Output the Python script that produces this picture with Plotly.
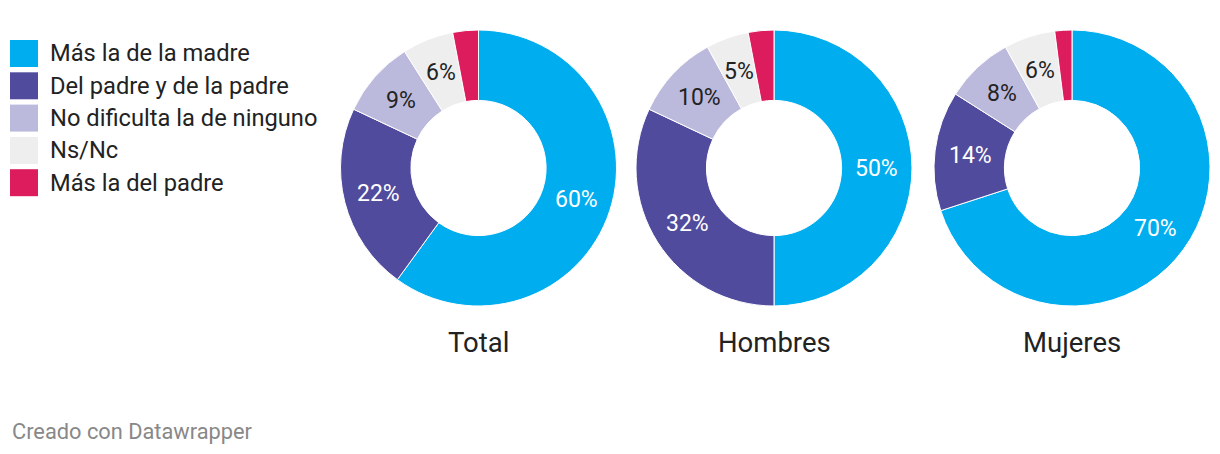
import math
import plotly.graph_objects as go

W, H = 1220, 454

categories = ["Más la de la madre", "Del padre y de la padre", "No dificulta la de ninguno", "Ns/Nc", "Más la del padre"]
colors = ["#00AEEF", "#514B9E", "#BCBADC", "#EEEEEE", "#DC1C5D"]
text_colors = ["white", "white", "#222222", "#222222", "#222222"]

groups = ["Total", "Hombres", "Mujeres"]
total_vals = [60, 22, 9, 6, 3]
hombres_vals = [50, 32, 10, 5, 3]
mujeres_vals = [70, 14, 8, 6, 2]
show_label = [True, True, True, True, False]

series = [total_vals, hombres_vals, mujeres_vals]
centers_x = [478.5, 774, 1072]
cy = 168
R = 138
HOLE = 0.49

def px_x(x):
    return x / W

def px_y(y):
    return 1 - y / H

fig = go.Figure()
for g, vals, cx in zip(groups, series, centers_x):
    fig.add_trace(go.Pie(
        labels=categories,
        values=vals,
        textinfo="none",
        hole=HOLE,
        sort=False,
        direction="clockwise",
        rotation=0,
        marker=dict(colors=colors, line=dict(color="white", width=1)),
        showlegend=False,
        domain=dict(x=[px_x(cx - R), px_x(cx + R)], y=[px_y(cy + R), px_y(cy - R)]),
        name=g,
    ))
    # slice labels at mid-radius, angle derived from the values
    total = sum(vals)
    rmid = (R * HOLE + R) / 2
    cum = 0
    for v, s, tc in zip(vals, show_label, text_colors):
        ang = 2 * math.pi * (cum + v / 2) / total
        cum += v
        if not s:
            continue
        lx = cx + rmid * math.sin(ang)
        ly = cy - rmid * math.cos(ang)
        fig.add_annotation(x=px_x(lx), y=px_y(ly), xref="paper", yref="paper",
                           text=f"{v}%", showarrow=False, xanchor="center", yanchor="middle",
                           font=dict(family="Roboto", size=23, color=tc))
    fig.add_annotation(x=px_x(cx), y=px_y(342), xref="paper", yref="paper",
                       text=g, showarrow=False, xanchor="center", yanchor="middle",
                       font=dict(family="Roboto", size=27.5, color="#222222"))

# manual legend
for i, (cat, col) in enumerate(zip(categories, colors)):
    top = 40 + i * 32.3
    fig.add_shape(type="rect", xref="paper", yref="paper",
                  x0=px_x(10), x1=px_x(38), y0=px_y(top + 27), y1=px_y(top),
                  fillcolor=col, line=dict(width=0))
    fig.add_annotation(x=px_x(48), y=px_y(top + 13.5), xref="paper", yref="paper",
                       text=cat, showarrow=False, xanchor="left", yanchor="middle",
                       font=dict(family="Roboto", size=23.7, color="#222222"))

fig.add_annotation(x=px_x(10), y=px_y(431), xref="paper", yref="paper",
                   text="Creado con Datawrapper", showarrow=False, xanchor="left", yanchor="middle",
                   font=dict(family="Roboto", size=21.8, color="#888888"))

fig.update_layout(width=W, height=H, margin=dict(l=0, r=0, t=0, b=0),
                  paper_bgcolor="white", plot_bgcolor="white")
fig.write_html("out.html")
